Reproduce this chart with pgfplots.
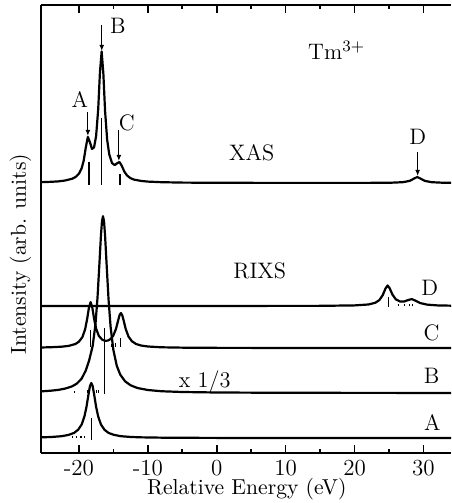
\documentclass[border=0pt]{standalone}
\usepackage{pgfplots}
\pgfplotsset{compat=1.18}
\usetikzlibrary{arrows.meta}

\newcommand{\lab}{\fontsize{11.2}{13}\selectfont}
\pgfplotsset{spec/.style={black, mark=none, line width=1.1pt, line join=round}}

\begin{document}
\begin{tikzpicture}
\begin{axis}[
  scale only axis,
  width=205pt, height=224pt,
  xmin=-25.5, xmax=34, ymin=0, ymax=448,
  axis x line=box, axis y line=left,
  x axis line style={-}, y axis line style={-},
  axis line style={line width=1pt},
  xtick={-20,-10,...,30}, minor x tick num=1,
  xticklabels={\mbox{-20},\mbox{-10},0,10,20,30},
  ytick=\empty,
  major tick length=4pt, minor tick length=2pt,
  tick style={line width=0.8pt,black},
  tick label style={font=\fontsize{11.5}{13}\selectfont},
  xlabel={Relative Energy (eV)},
  ylabel={Intensity (arb. units)},
  label style={font=\fontsize{10.8}{13}\selectfont},
  xlabel style={at={(axis description cs:0.502,0)}, anchor=center, yshift=-18pt},
  ylabel style={at={(axis description cs:-0.05,0.444)}, anchor=center},
  unbounded coords=jump,
]
% XAS
\addplot[spec] coordinates {(-25.5,270.8) (-24,271.2) (-23,271.6) (-22,272.5) (-21,274.2) (-20.5,275.9) (-20,279.2) (-19.6,284.7) (-19.3,292.5) (-19,305.5) (-18.7,316.1) (-18.4,310.7) (-18.1,304.1) (-17.8,305.6) (-17.5,317.1) (-17.2,343.6) (-16.95,380.2) (-16.7,401.5) (-16.45,379.3) (-16.2,341.7) (-15.9,313.4) (-15.6,298.8) (-15.2,290.0) (-14.8,287.9) (-14.4,290.0) (-14.1,290.9) (-13.8,287.5) (-13.4,281.3) (-13,277.4) (-12.5,274.8) (-12,273.4) (-11,272.1) (-10,271.4) (-8,270.8) (-5,270.4) (0,270.2) (10,270.1) (20,270.1) (25,270.2) (27,270.8) (28,272.1) (28.6,274.3) (29.1,276) (29.6,274.3) (30.2,272.1) (31.2,270.8) (33,270.2) (34.2,270.2)};
% RIXS D
\addplot[spec] coordinates {(-25.5,147) (0,147.05) (15,147.15) (20,147.6) (22,148.5) (23,150.2) (23.6,152.9) (24.1,158.0) (24.5,164.6) (24.8,167.5) (25.1,164.7) (25.5,158.4) (26,153.6) (26.6,151.5) (27.2,151.5) (27.8,153.0) (28.3,153.9) (28.8,152.5) (29.5,150.0) (30.5,148.4) (32,147.6) (34.2,147.3)};
% RIXS C
\addplot[spec] coordinates {(-25.5,105.5) (-24,105.8) (-22.5,106.3) (-21.5,107.1) (-20.5,109.0) (-20,111.3) (-19.5,115.8) (-19.1,123.6) (-18.8,134.1) (-18.55,145.1) (-18.3,150.9) (-18.05,145.3) (-17.8,134.5) (-17.5,124.3) (-17.1,117.0) (-16.6,113.2) (-16.2,112.2) (-15.8,112.4) (-15.4,114.0) (-15,117.5) (-14.6,124.5) (-14.3,132.7) (-14.1,137.8) (-13.9,140.0) (-13.7,137.6) (-13.5,132.3) (-13.2,123.9) (-12.8,116.4) (-12.3,111.7) (-11.7,109.0) (-11,107.5) (-10,106.5) (-8,105.7) (-5,105.35) (0,105.15) (10,105.05) (34.2,105)};
% RIXS B (x 1/3)
\addplot[spec] coordinates {(-25.5,61.6) (-24,62.35) (-23,63.1) (-22,64.4) (-21,66.6) (-20.3,69.4) (-19.6,74.4) (-19,82.5) (-18.5,92.9) (-18,107.1) (-17.6,128.4) (-17.3,155.2) (-17,192.1) (-16.8,217.6) (-16.65,231.6) (-16.5,236.8) (-16.35,231.4) (-16.2,217.2) (-16,191.4) (-15.7,153.8) (-15.4,126.2) (-15,103.1) (-14.5,87.1) (-14,78.4) (-13.3,71.7) (-12.5,67.7) (-11.5,65.0) (-10,63.0) (-8,61.75) (-5,61.0) (0,60.5) (10,60.2) (34.2,60.05)};
% RIXS A
\addplot[spec] coordinates {(-25.5,15.65) (-24,16.0) (-22.5,16.8) (-21.5,18.1) (-20.7,20.1) (-20.1,23.3) (-19.6,28.5) (-19.2,36.5) (-18.9,46.1) (-18.6,59.0) (-18.4,66.8) (-18.2,70) (-18,66.8) (-17.8,59.0) (-17.5,46.1) (-17.2,36.5) (-16.8,28.5) (-16.3,23.3) (-15.7,20.1) (-14.9,18.1) (-13.9,16.8) (-12.4,16.0) (-10.9,15.65) (-8,15.34) (-5,15.2) (0,15.1) (10,15.03) (34.2,15)};
% sticks
\addplot[black, line width=0.75pt] coordinates {
 (-18.5,268) (-18.5,291) (-18.5,nan)
 (-16.7,268) (-16.7,335) (-16.7,nan)
 (-14.07,268) (-14.07,279) (-14.07,nan)
 (24.95,146) (24.95,156) (24.95,nan)
 (-18.32,106) (-18.32,123) (-18.32,nan)
 (-13.97,106) (-13.97,115) (-13.97,nan)
 (-16.25,59) (-16.25,125) (-16.25,nan)
 (-18.18,13) (-18.18,35) (-18.18,nan)
};
% small lines
\addplot[black, line width=0.6pt] coordinates {
 (26.4,146.5) (26.4,148.5) (26.4,nan)
 (27.3,146.5) (27.3,148.5) (27.3,nan)
 (28.0,146.5) (28.0,149) (28.0,nan)
 (28.4,146.5) (28.4,148.5) (28.4,nan)
 (-15.2,106) (-15.2,109) (-15.2,nan)
 (-14.7,106) (-14.7,110) (-14.7,nan)
 (-20.6,60.5) (-20.6,62.5) (-20.6,nan)
 (-18.7,60.5) (-18.7,63) (-18.7,nan)
 (-17.4,60.5) (-17.4,63.5) (-17.4,nan)
 (-17.1,60.5) (-17.1,63.5) (-17.1,nan)
 (-20.9,15.5) (-20.9,17) (-20.9,nan)
 (-20.3,15.5) (-20.3,17) (-20.3,nan)
 (-19.7,15.5) (-19.7,17) (-19.7,nan)
 (-19.2,15.5) (-19.2,17) (-19.2,nan)
};
% arrows
\draw[-{Latex[length=3pt,width=2.4pt]}, line width=0.55pt] (axis cs:-18.7,341) -- (axis cs:-18.7,317);
\draw[-{Latex[length=3pt,width=2.4pt]}, line width=0.55pt] (axis cs:-16.68,428) -- (axis cs:-16.68,402);
\draw[-{Latex[length=3pt,width=2.4pt]}, line width=0.55pt] (axis cs:-14.2,323) -- (axis cs:-14.2,292);
\draw[-{Latex[length=3pt,width=2.4pt]}, line width=0.55pt] (axis cs:29.16,301) -- (axis cs:29.16,277);
% labels
\node[font=\lab] at (axis cs:-19.87,353) {A};
\node[font=\lab] at (axis cs:-14.36,427) {B};
\node[font=\lab] at (axis cs:-13.05,330) {C};
\node[font=\lab] at (axis cs:29.16,316) {D};
\node[font=\lab] at (axis cs:17.4,403) {Tm$^{3+}$};
\node[font=\lab] at (axis cs:5.08,300) {XAS};
\node[font=\lab] at (axis cs:6.24,182) {RIXS};
\node[font=\lab] at (axis cs:30.9,165) {D};
\node[font=\lab] at (axis cs:31.19,120) {C};
\node[font=\lab] at (axis cs:31.19,77) {B};
\node[font=\lab] at (axis cs:31.3,30) {A};
\node[font=\lab] at (axis cs:-1.74,71) {x 1/3};
\coordinate (bl) at (rel axis cs:0,0);
\coordinate (tr) at (rel axis cs:1,1);
\end{axis}
\pgfresetboundingbox
\path ([shift={(-20.5pt,-25pt)}]bl) rectangle ([shift={(0pt,2.5pt)}]tr);
\end{tikzpicture}
\end{document}
